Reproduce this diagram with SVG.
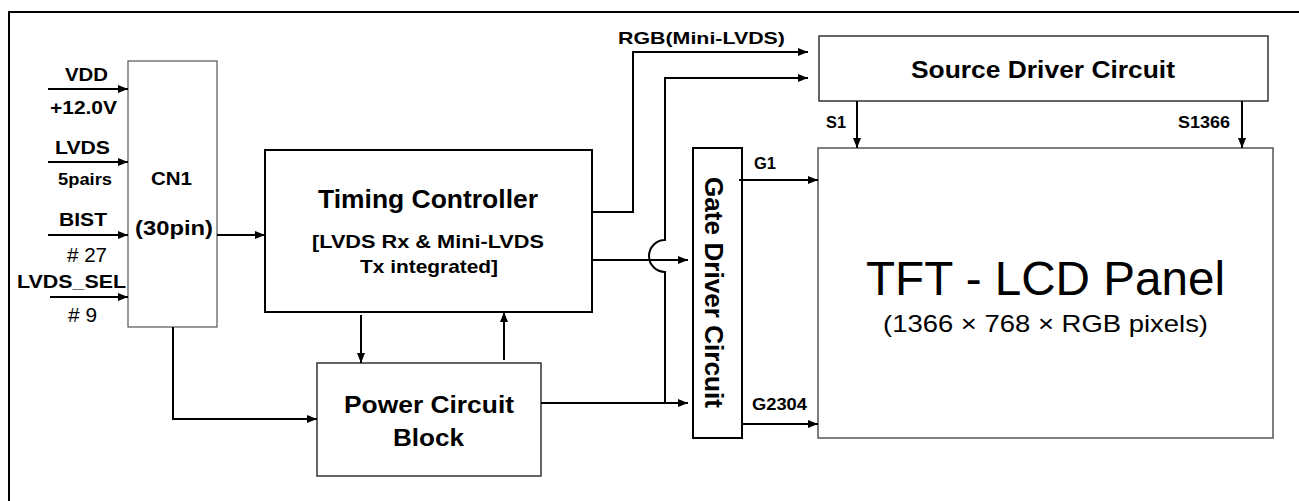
<svg xmlns="http://www.w3.org/2000/svg" width="1299" height="501" viewBox="0 0 1299 501">
<style>
text{font-family:"Liberation Sans",Arial,sans-serif;fill:#000}
.b{font-weight:bold}
.m{text-anchor:middle}
.box{fill:#fff}
.c{fill:none;stroke:#000;stroke-width:2}
.a{marker-end:url(#arr)}
</style>
<defs>
<marker id="arr" markerUnits="userSpaceOnUse" markerWidth="11" markerHeight="9" refX="10" refY="4" orient="auto"><path d="M0,0 L10,4 L0,8 z" fill="#000"/></marker>
</defs>
<rect width="1299" height="501" fill="#fff"/>
<path d="M9,501 V12 H1299" fill="none" stroke="#000" stroke-width="2"/>

<g id="cn1">
<rect class="box" x="128" y="61" width="89" height="266" stroke="#555" stroke-width="1.2"/>
<text class="b m" x="171.5" y="185" font-size="18" textLength="41" lengthAdjust="spacingAndGlyphs">CN1</text>
<text class="b m" x="174" y="235" font-size="21" textLength="78" lengthAdjust="spacingAndGlyphs">(30pin)</text>
</g>

<g id="inputs">
<text class="b m" x="86.5" y="81" font-size="19" textLength="43" lengthAdjust="spacingAndGlyphs">VDD</text>
<text class="b m" x="83.5" y="114" font-size="18" textLength="67" lengthAdjust="spacingAndGlyphs">+12.0V</text>
<text class="b m" x="82.5" y="154" font-size="19" textLength="55" lengthAdjust="spacingAndGlyphs">LVDS</text>
<text class="b m" x="85" y="185" font-size="16" textLength="54" lengthAdjust="spacingAndGlyphs">5pairs</text>
<text class="b m" x="83" y="226" font-size="19" textLength="48" lengthAdjust="spacingAndGlyphs">BIST</text>
<text class="m" x="87" y="262" font-size="20" textLength="40" lengthAdjust="spacingAndGlyphs"># 27</text>
<text class="b m" x="71.5" y="288" font-size="18.5" textLength="109" lengthAdjust="spacingAndGlyphs">LVDS_SEL</text>
<text class="m" x="82.5" y="322" font-size="20" textLength="29" lengthAdjust="spacingAndGlyphs"># 9</text>
</g>

<g id="timing">
<rect class="box" x="265" y="150" width="327" height="162" stroke="#000" stroke-width="2"/>
<text class="b m" x="428" y="208" font-size="25" textLength="220" lengthAdjust="spacingAndGlyphs">Timing Controller</text>
<text class="b m" x="428" y="248" font-size="18.5" textLength="232" lengthAdjust="spacingAndGlyphs">[LVDS Rx &amp; Mini-LVDS</text>
<text class="b m" x="429" y="273" font-size="18.5" textLength="138" lengthAdjust="spacingAndGlyphs">Tx integrated]</text>
</g>

<g id="power">
<rect class="box" x="317" y="363" width="224" height="113" stroke="#333" stroke-width="1.5"/>
<text class="b m" x="429" y="413" font-size="23" textLength="170" lengthAdjust="spacingAndGlyphs">Power Circuit</text>
<text class="b m" x="428.5" y="446" font-size="23" textLength="71" lengthAdjust="spacingAndGlyphs">Block</text>
</g>

<g id="gate">
<rect class="box" x="693" y="148" width="49" height="290" stroke="#000" stroke-width="2"/>
<text class="b m" transform="translate(705,292.5) rotate(90)" x="0" y="0" font-size="25" textLength="231" lengthAdjust="spacingAndGlyphs">Gate Driver Circuit</text>
</g>

<g id="source">
<rect class="box" x="819" y="36" width="449" height="65" stroke="#333" stroke-width="1.5"/>
<text class="b m" x="1043" y="78" font-size="24" textLength="264" lengthAdjust="spacingAndGlyphs">Source Driver Circuit</text>
</g>

<g id="panel">
<rect class="box" x="818" y="148" width="455" height="290" stroke="#555" stroke-width="1.5"/>
<text class="m" x="1045.5" y="295" font-size="48" textLength="359" lengthAdjust="spacingAndGlyphs">TFT - LCD Panel</text>
<text class="m" x="1045.5" y="332" font-size="24" textLength="325" lengthAdjust="spacingAndGlyphs">(1366 × 768 × RGB pixels)</text>
</g>

<g id="connectors">
<path class="c a" d="M48,89 H128"/>
<path class="c a" d="M48,162 H128"/>
<path class="c a" d="M48,235 H128"/>
<path class="c a" d="M50,297 H128"/>
<path class="c a" d="M217,235 H265"/>
<path class="c a" d="M173,327 V419 H317"/>
<path class="c a" d="M361,315 V363"/>
<path class="c a" d="M504,360 V312"/>
<path class="c a" d="M592,212 H633 V52 H808"/>
<path class="c a" d="M541,403 H688"/>
<path class="c a" d="M665,403 V272 A16,16 0 0 1 665,240 V78 H808"/>
<path class="c a" d="M592,260 H688"/>
<path class="c a" d="M739,180 H818"/>
<path class="c a" d="M743,424 H818"/>
<path class="c a" d="M857,101 V148"/>
<path class="c a" d="M1242,101 V148"/>
<text class="b m" x="701.5" y="44" font-size="17" textLength="167" lengthAdjust="spacingAndGlyphs">RGB(Mini-LVDS)</text>
<text class="b m" x="836" y="128" font-size="17" textLength="20" lengthAdjust="spacingAndGlyphs">S1</text>
<text class="b m" x="1204" y="128" font-size="17" textLength="52" lengthAdjust="spacingAndGlyphs">S1366</text>
<text class="b m" x="765" y="169" font-size="17" textLength="22" lengthAdjust="spacingAndGlyphs">G1</text>
<text class="b m" x="779.5" y="410" font-size="17" textLength="55" lengthAdjust="spacingAndGlyphs">G2304</text>
</g>
</svg>
